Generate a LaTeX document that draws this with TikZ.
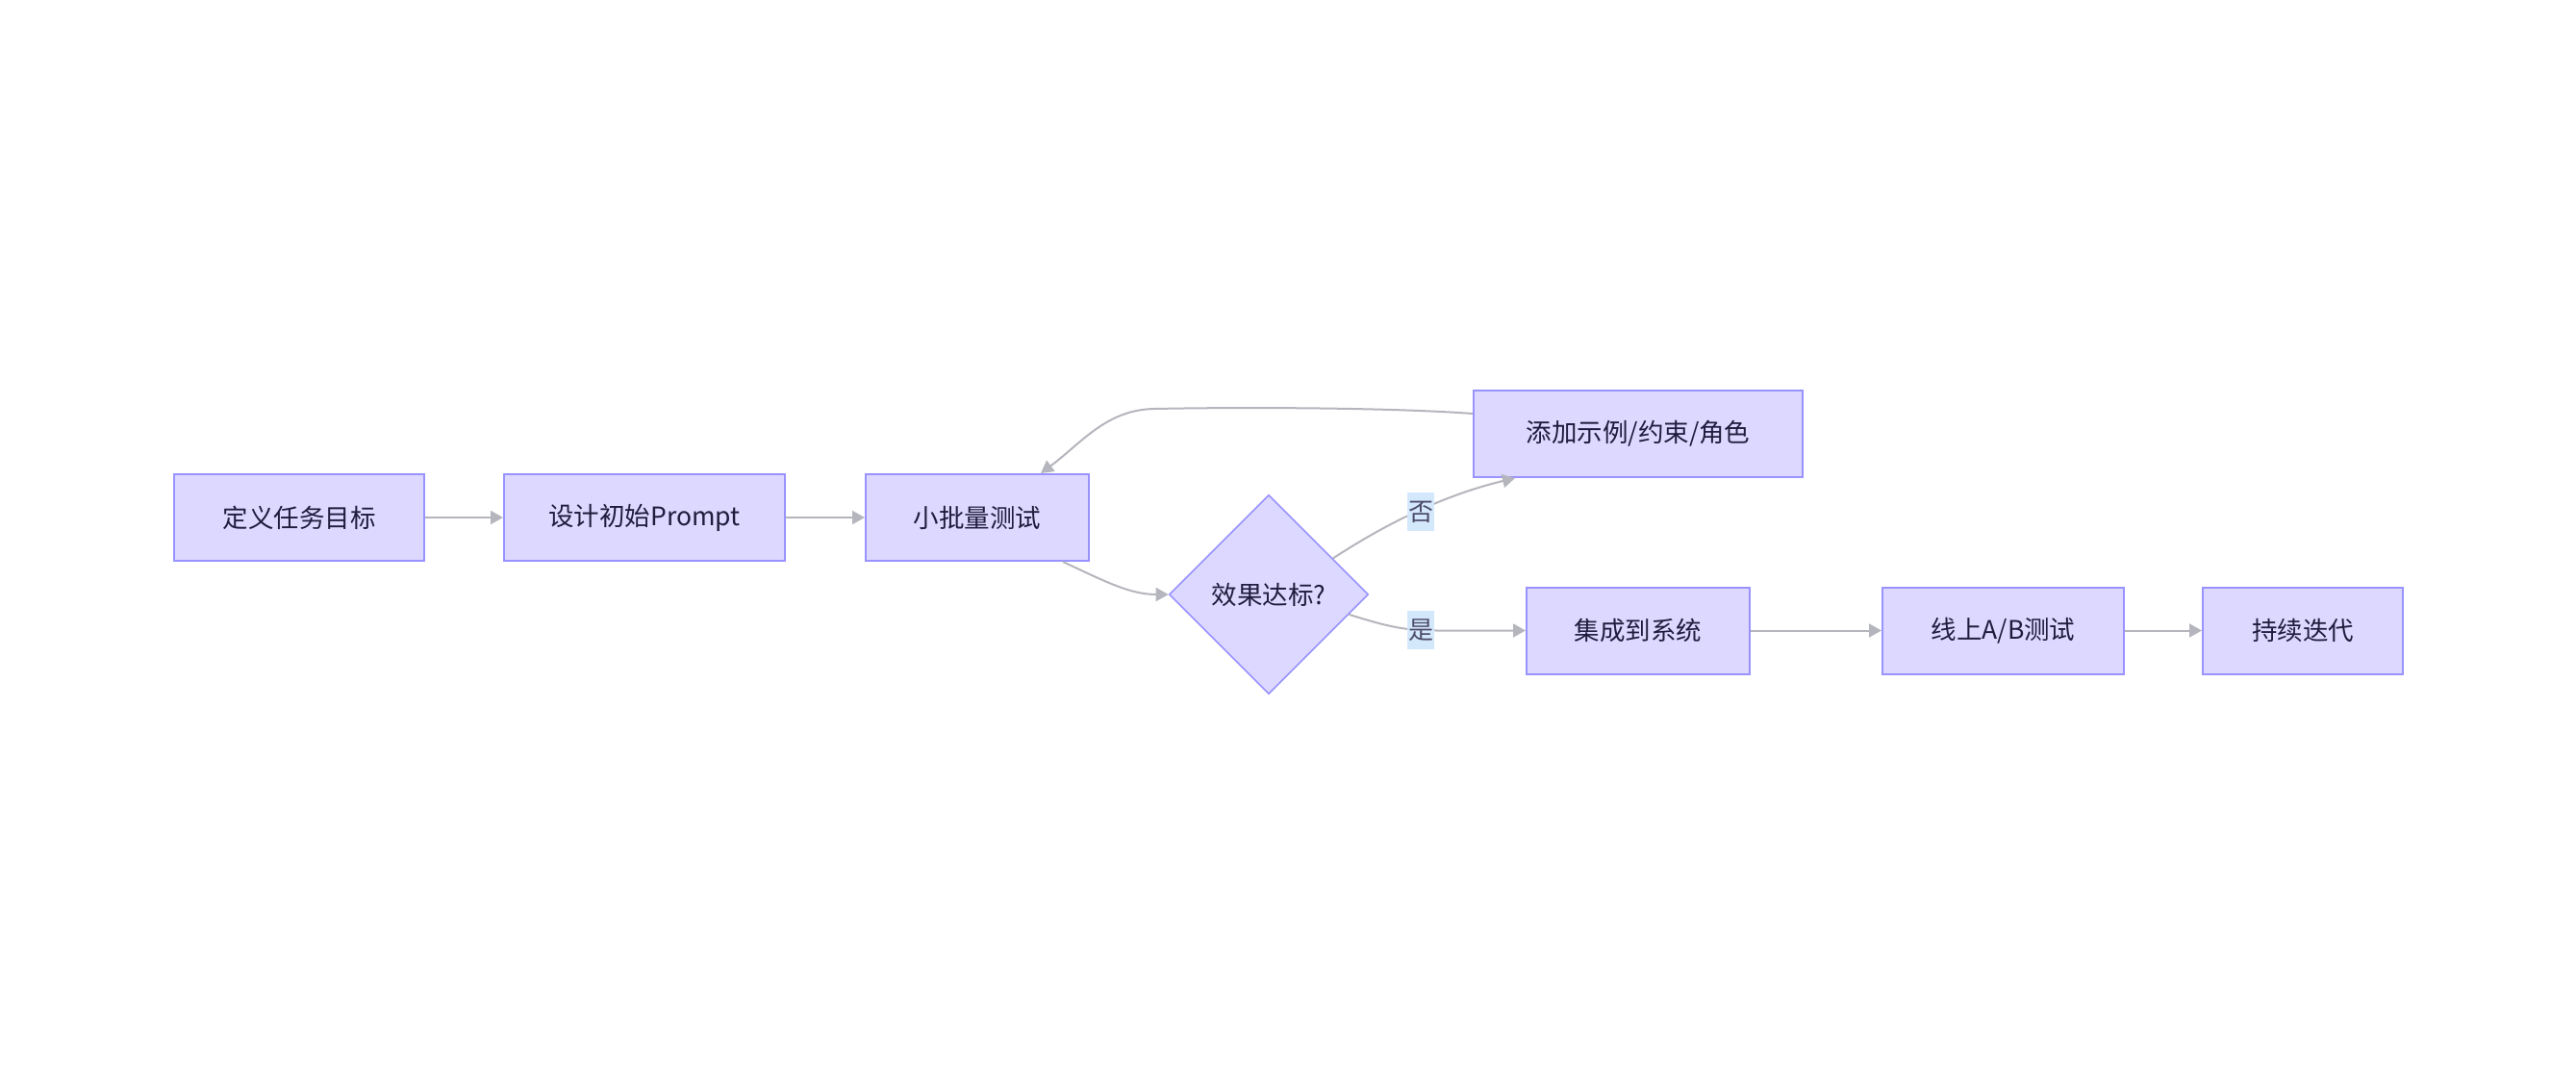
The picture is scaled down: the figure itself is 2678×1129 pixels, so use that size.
\documentclass[tikz,border=0pt]{standalone}
\usepackage{fontspec}
\setmainfont{Noto Sans CJK SC}
\usetikzlibrary{shapes,arrows.meta,calc}
\definecolor{boxFill}{rgb}{0.863,0.847,1.0}
\definecolor{boxDraw}{rgb}{0.600,0.576,1.0}
\definecolor{edgeGray}{rgb}{0.71,0.71,0.74}
\definecolor{labelFill}{rgb}{0.83,0.91,0.99}
\definecolor{textDark}{rgb}{0.12,0.11,0.24}
\definecolor{labelText}{rgb}{0.30,0.30,0.42}

\begin{document}
\begin{tikzpicture}[x=0.5pt,y=-0.5pt,
    stepBox/.style={draw=boxDraw,fill=boxFill,line width=1pt,text=textDark,
      font=\fontsize{13.25pt}{16pt}\selectfont,minimum height=45pt,inner sep=0pt,minimum width=#1},
    checkDiamond/.style={diamond,draw=boxDraw,fill=boxFill,line width=0.8pt,text=textDark,
      font=\fontsize{13.25pt}{16pt}\selectfont,minimum width=103.5pt,minimum height=103.5pt,inner sep=0pt},
    edgeLine/.style={draw=edgeGray,line width=1pt,-{Triangle[length=6.5pt,width=7pt]}},
    edgeLabel/.style={fill=labelFill,text=labelText,font=\fontsize{13pt}{15pt}\selectfont,
      minimum width=14pt,minimum height=20pt,inner sep=0pt}]

  \useasboundingbox (0,0) rectangle (2678,1129);

  % draw the steps
  \node[stepBox=130pt] (goal) at (311,538) {定义任务目标};
  \node[stepBox=146pt] (design) at (670,538) {设计初始Prompt};
  \node[stepBox=116pt] (test) at (1016,538) {小批量测试};
  \node[checkDiamond] (check) at (1319,618) {效果达标?};
  \node[stepBox=171pt] (add) at (1703,451) {添加示例/约束/角色};
  \node[stepBox=116pt] (integ) at (1703,655.5) {集成到系统};
  \node[stepBox=125.5pt] (abTest) at (2082.5,655.5) {线上A/B测试};
  \node[stepBox=104pt] (iterate) at (2394,655.5) {持续迭代};

  % draw the main flow
  \draw[edgeLine] (goal) -- (design);
  \draw[edgeLine] (design) -- (test);
  \draw[edgeLine] ([xshift=44.5pt]test.south) .. controls (1150,605) and (1175,618) .. (check.west);
  \draw[edgeLine] ($(check.east)!0.2!(check.south)$) .. controls (1445,652) and (1460,655.5) .. (1495,655.5) -- (integ.west);
  \draw[edgeLine] (integ) -- (abTest);
  \draw[edgeLine] (abTest) -- (iterate);

  % draw the loop back to the test
  \draw[edgeLine] ($(check.east)!0.36!(check.north)$) .. controls (1440,545) and (1500,515) .. ([xshift=-64pt]add.south);
  \draw[edgeLine] ([yshift=10.5pt]add.west) .. controls (1450,424) and (1300,423) .. (1200,425)
    .. controls (1150,426) and (1125,460) .. ([xshift=33pt]test.north);

  % label the decision
  \node[edgeLabel] (noLabel) at (1477,532) {否};
  \node[edgeLabel] (yesLabel) at (1477,655) {是};

\end{tikzpicture}
\end{document}
